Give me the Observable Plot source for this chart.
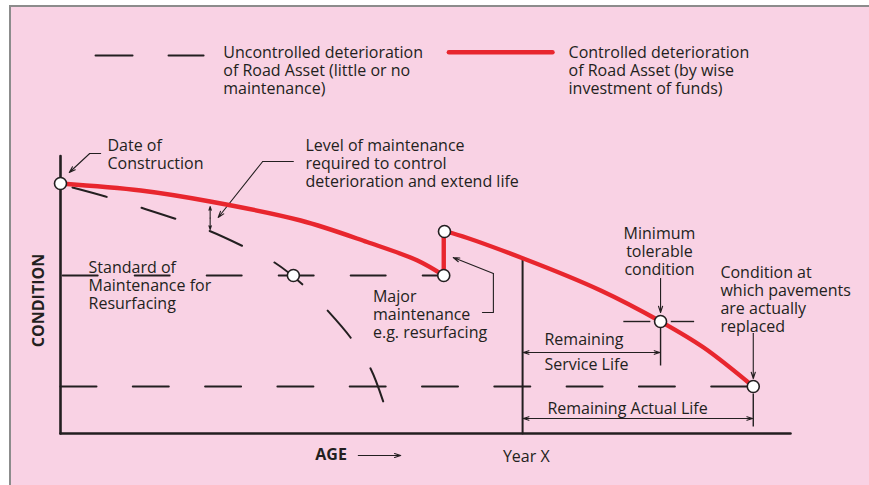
<!DOCTYPE html>
<html><head><meta charset="utf-8">
<script src="https://cdn.jsdelivr.net/npm/d3@7"></script>
<script src="https://cdn.jsdelivr.net/npm/@observablehq/plot@0.6"></script>
<style>
html,body{margin:0;padding:0;background:#fff;}
#frame{position:absolute;left:9px;top:5px;width:860px;height:480px;background:#f9d2e4;border-left:2px solid #8c8c8c;border-top:2px solid #8c8c8c;}
#chart{position:absolute;left:0;top:0;}
</style></head><body><div id="frame"></div><div id="chart"></div>
<script>
// ---- conceptual data (age, condition units) ----
const controlledAgeBefore = [0, 11, 20.5, 32.9, 42, 48.9, 52.5];
const controlledCondBefore = [100, 97.2, 92.8, 85.2, 76.6, 69.2, 63.2];
const resurfacingAge = [52.5, 52.5];
const resurfacingCond = [63.2, 80.8];
const controlledAgeAfter = [52.6, 53.7, 63.4, 74, 82.2, 88.1, 94.9];
const controlledCondAfter = [80.8, 80.1, 70, 57.2, 44.8, 34.4, 18.8];

const uncontrolledAge = [1.64, 6.16, 10.96, 15.62, 20.27, 24.79, 29.32, 33.15, 36.58, 39.73, 42.47, 44.25];
const uncontrolledCond = [98.4, 94.8, 90.4, 86.0, 81.2, 75.2, 68.4, 59.6, 49.2, 38.4, 26.0, 12.4];

const standardCond = 63.2;           // standard of maintenance for resurfacing
const standardAgeRange = [0.3, 52.5];
const replacementCond = 18.8;        // condition at which pavements are replaced
const replacementAgeRange = [0, 94.2];
const yearX = 63.3;
const yearXTop = 70;
const axisAgeMax = 100;
const axisCondMax = 111;

const keyPointAge = [0, 31.9, 52.5, 52.6, 82.2, 94.9];
const keyPointCond = [100, 63.2, 63.2, 80.8, 44.8, 18.8];

const minTolerable = {age: 82.2, cond: 44.8};
const replaced = {age: 94.9, cond: 18.8};

const labelText = [
  "Date of\nConstruction",
  "Level of maintenance\nrequired to control\ndeterioration and extend life",
  "Standard of\nMaintenance for\nResurfacing",
  "Major\nmaintenance\ne.g. resurfacing",
  "Condition at\nwhich pavements\nare actually\nreplaced",
  "Remaining",
  "Service Life",
  "Remaining Actual Life",
  "Year X",
  "Uncontrolled deterioration\nof Road Asset (little or no\nmaintenance)",
  "Controlled deterioration\nof Road Asset (by wise\ninvestment of funds)"
];
const labelAge = [6.44, 33.56, 3.84, 42.8, 90.4, 66.3, 66.3, 66.7, 60.6, 22.3, 69.6];
const labelCond = [118.2, 118, 69.5, 57.8, 67.4, 40.4, 30.4, 13.1, -6.2, 155.2, 155.2];

const centeredLabel = "Minimum\ntolerable\ncondition";
const centeredLabelAge = 82.05, centeredLabelCond = 82.8;

// leaders: polyline points; last segment gets an arrowhead
const leaders = [
  {age: [5.5, 4.0, 1.2], cond: [112, 112, 104.4]},
  {age: [31.9, 27.7, 21.6], cond: [108.8, 108.8, 86.4]},
  {age: [57.8, 59.3, 59.3, 53.8], cond: [48.4, 48.4, 64, 70.4]},
  {age: [82.2, 82.2], cond: [62, 48.4]},
  {age: [94.9, 94.9], cond: [40, 22]}
];
// double arrows: [x1, y1, x2, y2]
const doubleArrows = [
  [20.5, 90.8, 20.5, 81.6],
  [63.4, 32.4, 82.1, 32.4],
  [63.4, 6, 94.8, 6]
];
// plain ticks: [x1, y1, x2, y2]
const ticks = [
  [77.1, 44.8, 80.8, 44.8],
  [83.6, 44.8, 86.8, 44.8],
  [82.2, 42.4, 82.2, 27.2],
  [94.9, 16, 94.9, 2.8]
];
// legend samples
const legendDashAge = [4.8, 19.6], legendDashCond = 151.2;
const legendRedAge = [53.2, 67.4], legendRedCond = 152.5;
const axisTitleAge = 34.9, axisTitleCond = -6.0;
const ageArrowAge = [40.8, 46.6], ageArrowCond = -8.8;
const condTitleAge = -3.0, condTitleCond = 53.2;

const ink = "#231f20";
const red = "#e8262e";
const font = "'Open Sans', sans-serif";

const seg = (arr) => arr.map(([x1, y1, x2, y2]) => ({x1, y1, x2, y2}));
const leaderLines = leaders.flatMap((l, k) => l.age.slice(0, -1).map((a, i) => ({k, x: a, y: l.cond[i]})));
const leaderHeads = leaders.map(l => {
  const n = l.age.length;
  return {x1: l.age[n - 2], y1: l.cond[n - 2], x2: l.age[n - 1], y2: l.cond[n - 1]};
});
const dblHalves = doubleArrows.flatMap(([x1, y1, x2, y2]) => {
  const mx = (x1 + x2) / 2, my = (y1 + y2) / 2;
  return [{x1: mx, y1: my, x2: x1, y2: y1}, {x1: mx, y1: my, x2, y2}];
});

const chart = Plot.plot({
  width: 869, height: 485, margin: 0,
  x: {domain: [0, 100], range: [60, 790], axis: null},
  y: {domain: [0, 100], range: [433, 183], axis: null},
  style: {background: "transparent", fontFamily: font, overflow: "visible", color: ink},
  marks: [
    // axes
    Plot.line([0, 1], {x: [0, 0], y: [axisCondMax, 0], stroke: ink, strokeWidth: 2.6}),
    Plot.line([0, 1], {x: [0, axisAgeMax], y: [0, 0], stroke: ink, strokeWidth: 2.6}),
    // year X
    Plot.line([0, 1], {x: [yearX, yearX], y: [0, yearXTop], stroke: ink, strokeWidth: 2}),
    // standard & replacement dashed lines
    Plot.line([0, 1], {x: standardAgeRange, y: [standardCond, standardCond], stroke: ink, strokeWidth: 2, strokeDasharray: "35,37"}),
    Plot.line([0, 1], {x: replacementAgeRange, y: [replacementCond, replacementCond], stroke: ink, strokeWidth: 2, strokeDasharray: "36,36.3"}),
    // uncontrolled deterioration
    Plot.line(uncontrolledAge, {x: uncontrolledAge, y: uncontrolledCond, curve: "catmull-rom", stroke: ink, strokeWidth: 2, strokeDasharray: "35.5,36.5"}),
    // ticks
    Plot.link(seg(ticks), {x1: "x1", y1: "y1", x2: "x2", y2: "y2", stroke: ink, strokeWidth: 1.4}),
    // leaders
    Plot.line(leaderLines, {x: "x", y: "y", z: "k", stroke: ink, strokeWidth: 1.1}),
    Plot.arrow(leaderHeads, {x1: "x1", y1: "y1", x2: "x2", y2: "y2", stroke: ink, strokeWidth: 1.1, headLength: 9, headAngle: 36}),
    Plot.arrow(dblHalves, {x1: "x1", y1: "y1", x2: "x2", y2: "y2", stroke: ink, strokeWidth: 1.1, headLength: 8, headAngle: 36}),
    // controlled deterioration (red)
    Plot.line(controlledAgeBefore, {x: controlledAgeBefore, y: controlledCondBefore, curve: "catmull-rom", stroke: red, strokeWidth: 4.4}),
    Plot.line(resurfacingAge, {x: resurfacingAge, y: resurfacingCond, stroke: red, strokeWidth: 4.4}),
    Plot.line(controlledAgeAfter, {x: controlledAgeAfter, y: controlledCondAfter, curve: "catmull-rom", stroke: red, strokeWidth: 4.4}),
    // key points
    Plot.dot(keyPointAge, {x: keyPointAge, y: keyPointCond, r: 6, fill: "white", stroke: ink, strokeWidth: 1.6}),
    // legend samples
    Plot.line([0, 1], {x: legendDashAge, y: [legendDashCond, legendDashCond], stroke: ink, strokeWidth: 2, strokeDasharray: "37,36"}),
    Plot.line([0, 1], {x: legendRedAge, y: [legendRedCond, legendRedCond], stroke: red, strokeWidth: 4.4}),
    // labels
    Plot.text(labelText, {x: labelAge, y: labelCond, text: d => d, textAnchor: "start", lineAnchor: "top", fontSize: 16, lineHeight: 1.125, fill: ink}),
    Plot.text([centeredLabel], {x: [centeredLabelAge], y: [centeredLabelCond], text: d => d, textAnchor: "middle", lineAnchor: "top", fontSize: 16, lineHeight: 1.125, fill: ink}),
    Plot.text(["AGE"], {x: [axisTitleAge], y: [axisTitleCond], text: d => d, textAnchor: "start", lineAnchor: "top", fontSize: 16, fontWeight: "bold", fill: ink}),
    Plot.arrow([{x1: ageArrowAge[0], y1: ageArrowCond, x2: ageArrowAge[1], y2: ageArrowCond}], {x1: "x1", y1: "y1", x2: "x2", y2: "y2", stroke: ink, strokeWidth: 1.2, headLength: 8, headAngle: 36}),
    Plot.text(["CONDITION"], {x: [condTitleAge], y: [condTitleCond], text: d => d, textAnchor: "middle", lineAnchor: "middle", rotate: -90, fontSize: 16, fontWeight: "bold", fill: ink})
  ]
});
document.getElementById("chart").appendChild(chart);
</script></body></html>
